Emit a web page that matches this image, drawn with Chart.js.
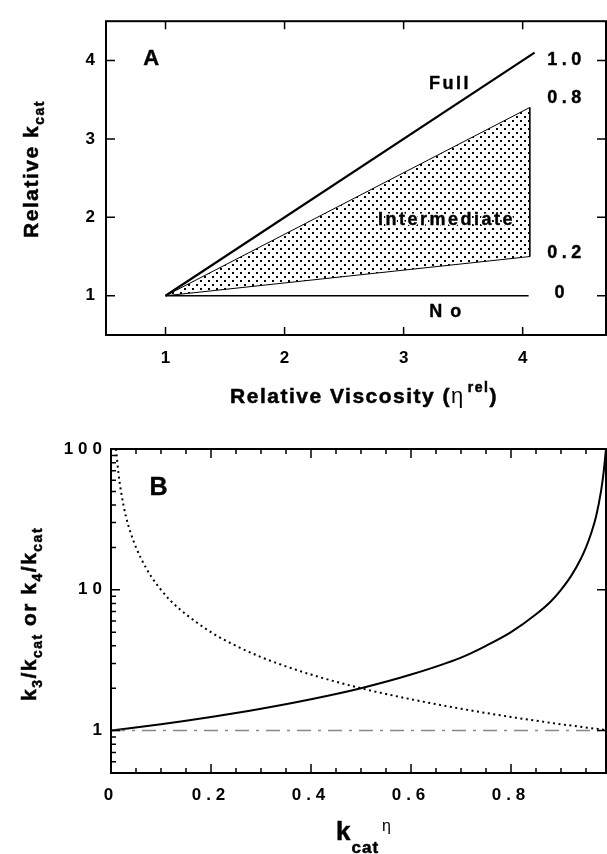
<!DOCTYPE html>
<html>
<head>
<meta charset="utf-8">
<script src="https://cdn.jsdelivr.net/npm/chart.js@4.4.0/dist/chart.umd.min.js"></script>
<style>
  html, body { margin: 0; padding: 0; background: #fff; }
  #wrap { position: relative; width: 607px; height: 854px; overflow: hidden; }
  canvas { position: absolute; left: 0; }
  #chartA { top: 0; }
  #chartB { top: 420px; }
</style>
</head>
<body>
<div id="wrap">
  <canvas id="chartA" width="607" height="420"></canvas>
  <canvas id="chartB" width="607" height="434"></canvas>
</div>
<script>
// ---- panel A: relative kcat vs relative viscosity ----
const viscTicks = [1, 2, 3, 4];
const kcatTicks = [1, 2, 3, 4];
const fullX = [1, 4.1];
const fullY = [1, 4.1];
const upperX = [1, 4.06];
const upperY = [1, 3.4];
const lowerX = [1, 4.06];
const lowerY = [1, 1.5];
const noX = [1, 4.05];
const noY = [1, 1];
const fractionLabels = ['1.0', '0.8', '0.2', '0'];

// ---- panel B: k3/kcat and k4/kcat vs kcat^eta ----
const etaMajor = [0, 0.2, 0.4, 0.6, 0.8];
const etaMajorLabels = ['0', '0.2', '0.4', '0.6', '0.8'];
const etaMinor = [0.05, 0.1, 0.15, 0.25, 0.3, 0.35, 0.45, 0.5, 0.55, 0.65, 0.7, 0.75, 0.85, 0.9, 0.95];
const ratioMajor = [1, 10, 100];
const ratioMajorLabels = ['1', '10', '100'];
const ratioMinor = [0.5, 0.6, 0.7, 0.8, 0.9, 2, 3, 4, 5, 6, 7, 8, 9, 20, 30, 40, 50, 60, 70, 80, 90];
const k3X = [0, 0.1, 0.2, 0.3, 0.4, 0.5, 0.6, 0.7, 0.75, 0.8, 0.85, 0.88, 0.9, 0.92, 0.94, 0.95, 0.96, 0.97, 0.98, 0.985, 0.99];
const k3Y = [1, 1.11, 1.25, 1.43, 1.67, 2, 2.5, 3.3, 4, 5, 6.7, 8.3, 10, 12.5, 16.7, 20, 25, 33, 50, 67, 100];
const k4X = [0.01, 0.015, 0.02, 0.03, 0.04, 0.05, 0.06, 0.08, 0.1, 0.12, 0.15, 0.2, 0.25, 0.3, 0.35, 0.4, 0.5, 0.6, 0.7, 0.8, 0.9, 0.99];
const k4Y = [100, 67, 50, 33, 25, 20, 16.7, 12.5, 10, 8.3, 6.7, 5, 4, 3.33, 2.86, 2.5, 2, 1.67, 1.43, 1.25, 1.11, 1.01];
const refX = [0, 0.99];
const refY = [1, 1];

const FONT = '"Liberation Sans", Arial, Helvetica, sans-serif';

function pts(xs, ys) {
  return xs.map((x, i) => ({ x: x, y: ys[i] }));
}

// dotted fill for the "intermediate" wedge
const tile = document.createElement('canvas');
tile.width = 8;
tile.height = 8;
const tctx = tile.getContext('2d');
tctx.fillStyle = '#000';
tctx.fillRect(0, 0, 2, 2);
tctx.fillRect(4, 4, 2, 2);
const dotPattern = tctx.createPattern(tile, 'repeat');

// text with sub/superscripts, centred on (cx, cy) baseline
function richText(ctx, parts, cx, cy, angle, ls) {
  ctx.save();
  ctx.translate(cx, cy);
  ctx.rotate(angle);
  ctx.letterSpacing = ls + 'px';
  ctx.fillStyle = '#000';
  ctx.strokeStyle = '#000';
  ctx.lineWidth = 0.5;
  ctx.textAlign = 'left';
  ctx.textBaseline = 'alphabetic';
  let total = 0;
  parts.forEach(p => {
    ctx.font = (p.weight || 'bold') + ' ' + p.size + 'px ' + FONT;
    p.w = ctx.measureText(p.t).width + (p.gap || 0);
    total += p.w;
  });
  let xx = -total / 2;
  parts.forEach(p => {
    ctx.font = (p.weight || 'bold') + ' ' + p.size + 'px ' + FONT;
    ctx.fillText(p.t, xx + (p.gap || 0), p.dy || 0);
    if (!p.weight) ctx.strokeText(p.t, xx + (p.gap || 0), p.dy || 0);
    xx += p.w;
  });
  ctx.restore();
}

function label(ctx, text, px, py, size, ls, halo) {
  ctx.save();
  ctx.font = 'bold ' + size + 'px ' + FONT;
  ctx.letterSpacing = ls + 'px';
  ctx.textAlign = 'left';
  ctx.textBaseline = 'middle';
  const w = ctx.measureText(text).width - ls;
  const x0 = px - w / 2;
  if (halo) {
    ctx.strokeStyle = '#fff';
    ctx.lineWidth = 3;
    ctx.lineJoin = 'round';
    ctx.strokeText(text, x0, py);
  }
  ctx.fillStyle = '#000';
  ctx.fillText(text, x0, py);
  ctx.strokeStyle = '#000';
  ctx.lineWidth = 0.4;
  ctx.strokeText(text, x0, py);
  ctx.restore();
}

// frame + inward tick marks
function frame(chart, xMarks, yMarks, yRightMarks) {
  const ctx = chart.ctx;
  const a = chart.chartArea;
  const xs = chart.scales.x, ys = chart.scales.y;
  ctx.save();
  ctx.strokeStyle = '#000';
  ctx.lineWidth = 1.5;
  ctx.beginPath();
  xMarks.forEach(m => {
    const px = xs.getPixelForValue(m.v);
    ctx.moveTo(px, a.bottom); ctx.lineTo(px, a.bottom - m.len);
    ctx.moveTo(px, a.top); ctx.lineTo(px, a.top + m.len);
  });
  yMarks.forEach(m => {
    const py = ys.getPixelForValue(m.v);
    ctx.moveTo(a.left, py); ctx.lineTo(a.left + m.len, py);
  });
  yRightMarks.forEach(m => {
    const py = ys.getPixelForValue(m.v);
    ctx.moveTo(a.right, py); ctx.lineTo(a.right - m.len, py);
  });
  ctx.stroke();
  ctx.lineWidth = 2;
  ctx.strokeRect(a.left, a.top, a.right - a.left, a.bottom - a.top);
  ctx.restore();
}

const tickFontA = { family: FONT, size: 17, weight: 'bold' };
const tickFontB = { family: FONT, size: 17, weight: 'bold' };

// ================= Panel A =================
new Chart(document.getElementById('chartA'), {
  type: 'line',
  data: {
    datasets: [
      { data: pts(upperX, upperY), borderColor: '#000', borderWidth: 1, fill: '+1', backgroundColor: dotPattern },
      { data: pts(lowerX, lowerY), borderColor: '#000', borderWidth: 1, fill: false },
      { data: pts([upperX[1], lowerX[1]], [upperY[1], lowerY[1]]), borderColor: '#000', borderWidth: 1, fill: false },
      { data: pts(fullX, fullY), borderColor: '#000', borderWidth: 2.2, fill: false },
      { data: pts(noX, noY), borderColor: '#000', borderWidth: 1.5, fill: false }
    ]
  },
  options: {
    responsive: false,
    animation: false,
    devicePixelRatio: 1,
    events: [],
    layout: { padding: { left: 0, top: 13, right: 1, bottom: 0 } },
    elements: { point: { radius: 0 }, line: { tension: 0 } },
    plugins: { legend: { display: false }, tooltip: { enabled: false } },
    scales: {
      x: {
        type: 'linear', min: 0.5, max: 4.7,
        grid: { display: false, drawTicks: false }, border: { display: false },
        afterBuildTicks: s => { s.ticks = viscTicks.map(v => ({ value: v })); },
        afterFit: s => { s.height = 85; },
        ticks: { padding: 13, color: '#000', font: tickFontA, autoSkip: false, maxRotation: 0, callback: v => String(v) }
      },
      y: {
        type: 'linear', min: 0.5, max: 4.5,
        grid: { display: false, drawTicks: false }, border: { display: false },
        afterBuildTicks: s => { s.ticks = kcatTicks.map(v => ({ value: v })); },
        afterFit: s => { s.width = 106; },
        ticks: { padding: 11, color: '#000', font: tickFontA, autoSkip: false, callback: v => String(v) }
      }
    }
  },
  plugins: [{
    id: 'panelA',
    beforeDraw: c => { c.ctx.letterSpacing = '0px'; },
    afterDraw: c => {
      const ctx = c.ctx, x = c.scales.x, y = c.scales.y;
      frame(c, viscTicks.map(v => ({ v: v, len: 8 })), kcatTicks.map(v => ({ v: v, len: 9 })), kcatTicks.map(v => ({ v: v, len: 9 })));
      label(ctx, 'A', x.getPixelForValue(0.88), y.getPixelForValue(4.02), 22, 0, false);
      label(ctx, 'Full', x.getPixelForValue(3.38), y.getPixelForValue(3.70), 18, 2.5, false);
      label(ctx, 'Intermediate', x.getPixelForValue(3.35), y.getPixelForValue(1.97), 18, 2.5, true);
      label(ctx, 'No', x.getPixelForValue(3.35), y.getPixelForValue(0.79), 18, 8, false);
      const fy = [4.01, 3.52, 1.54, 1.03];
      const fx = [4.35, 4.35, 4.35, 4.31];
      fractionLabels.forEach((t, i) => label(ctx, t, x.getPixelForValue(fx[i]), y.getPixelForValue(fy[i]), 18, 4.5, false));
      richText(ctx, [{ t: 'Relative k', size: 21 }, { t: 'cat', size: 14, dy: 6 }], 38, 169, -Math.PI / 2, 1.5);
      richText(ctx, [
        { t: 'Relative Viscosity (', size: 21 },
        { t: 'η', size: 22, weight: 'normal' },
        { t: 'rel', size: 14, dy: -11, gap: 3 },
        { t: ')', size: 21 }
      ], 364, 403, 0, 1.5);
    }
  }]
});

// ================= Panel B =================
const etaTicks = etaMajor.concat(etaMinor).sort((a, b) => a - b);
const ratioTicks = ratioMajor.concat(ratioMinor).sort((a, b) => a - b);

new Chart(document.getElementById('chartB'), {
  type: 'line',
  data: {
    datasets: [
      { data: pts(refX, refY), borderColor: '#888', borderWidth: 1.5, borderDash: [14, 7, 3, 7], fill: false },
      { data: pts(k4X, k4Y), borderColor: '#000', borderWidth: 2, borderDash: [2, 3.5], fill: false, cubicInterpolationMode: 'monotone' },
      { data: pts(k3X, k3Y), borderColor: '#000', borderWidth: 2, fill: false, cubicInterpolationMode: 'monotone' }
    ]
  },
  options: {
    responsive: false,
    animation: false,
    devicePixelRatio: 1,
    events: [],
    layout: { padding: { left: 0, top: 29, right: 1, bottom: 0 } },
    elements: { point: { radius: 0 } },
    plugins: { legend: { display: false }, tooltip: { enabled: false } },
    scales: {
      x: {
        type: 'linear', min: 0, max: 0.99,
        grid: { display: false, drawTicks: false }, border: { display: false },
        afterBuildTicks: s => { s.ticks = etaTicks.map(v => ({ value: v })); },
        afterFit: s => { s.height = 81; },
        ticks: {
          padding: 12, color: '#000', font: tickFontB, autoSkip: false, maxRotation: 0,
          callback: v => { const i = etaMajor.indexOf(v); return i >= 0 ? etaMajorLabels[i] : ''; }
        }
      },
      y: {
        type: 'logarithmic', min: 0.5, max: 100,
        grid: { display: false, drawTicks: false }, border: { display: false },
        afterBuildTicks: s => { s.ticks = ratioTicks.map(v => ({ value: v })); },
        afterFit: s => { s.width = 111; },
        ticks: {
          padding: 4, color: '#000', font: tickFontB, autoSkip: false,
          callback: v => { const i = ratioMajor.indexOf(v); return i >= 0 ? ratioMajorLabels[i] : ''; }
        }
      }
    }
  },
  plugins: [{
    id: 'panelB',
    beforeDraw: c => { c.ctx.letterSpacing = '5px'; },
    afterDraw: c => {
      const ctx = c.ctx, x = c.scales.x, y = c.scales.y;
      frame(c,
        etaTicks.map(v => ({ v: v, len: etaMajor.indexOf(v) >= 0 ? 9 : 5 })),
        ratioTicks.map(v => ({ v: v, len: ratioMajor.indexOf(v) >= 0 ? 9 : 5 })),
        ratioMajor.map(v => ({ v: v, len: 9 })));
      label(ctx, 'B', x.getPixelForValue(0.095), y.getPixelForValue(53), 25, 0, false);
      richText(ctx, [
        { t: 'k', size: 21 }, { t: '3', size: 14, dy: 6 },
        { t: '/k', size: 21 }, { t: 'cat', size: 14, dy: 6 },
        { t: ' or k', size: 21 }, { t: '4', size: 14, dy: 6 },
        { t: '/k', size: 21 }, { t: 'cat', size: 14, dy: 6 }
      ], 36, 194, -Math.PI / 2, 1.5);
      richText(ctx, [
        { t: 'k', size: 26 },
        { t: 'cat', size: 17, dy: 13 },
        { t: 'η', size: 16, dy: -9, gap: 3, weight: 'normal' }
      ], 364, 420, 0, 1);
    }
  }]
});
</script>
</body>
</html>
